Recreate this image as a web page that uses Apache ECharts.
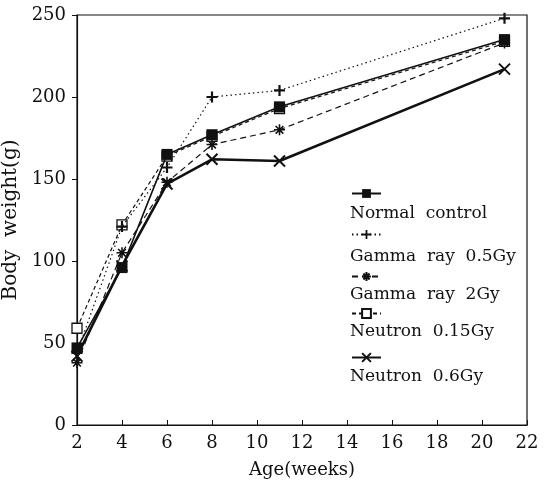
<!DOCTYPE html>
<html>
<head>
<meta charset="utf-8">
<script src="https://cdn.jsdelivr.net/npm/echarts@6/dist/echarts.min.js"></script>
<style>
  html, body { margin: 0; padding: 0; background: #fff; }
  #chart { width: 544px; height: 481px; }
</style>
</head>
<body>
<div id="chart"></div>
<script>
// values
var ages = [2, 4, 6, 8, 11, 21];
var normalControl = [47, 96, 165, 177, 194, 235];
var gamma05 = [44, 121, 157, 200, 204, 248];
var gamma2 = [38, 105, 148, 171, 180, 233];
var neutron015 = [59, 122, 164, 176, 193, 234];
var neutron06 = [42, 97, 147, 162, 161, 217];
var seriesNames = ['Normal  control', 'Gamma  ray  0.5Gy', 'Gamma  ray  2Gy', 'Neutron  0.15Gy', 'Neutron  0.6Gy'];

var ink = '#111';
var font = 'DejaVu Serif';

function pairs(ys) {
    return ages.map(function (a, i) { return [a, ys[i]]; });
}

var plusPath = 'path://M4,0L6,0L6,4L10,4L10,6L6,6L6,10L4,10L4,6L0,6L0,4L4,4Z';
var starPath = 'path://M5,0L5,10M0,5L10,5M1.5,1.5L8.5,8.5M8.5,1.5L1.5,8.5';
var crossPath = 'path://M0,0L10,10M10,0L0,10';

var chart = echarts.init(document.getElementById('chart'));

var series = [
    {
        name: seriesNames[0], type: 'line', data: pairs(normalControl),
        symbol: 'rect', symbolSize: 11, z: 5,
        lineStyle: { color: ink, width: 1.6, type: 'solid' },
        itemStyle: { color: ink }
    },
    {
        name: seriesNames[1], type: 'line', data: pairs(gamma05),
        symbol: plusPath, symbolSize: 11, z: 3,
        lineStyle: { color: ink, width: 1.2, type: [1.5, 3] },
        itemStyle: { color: ink }
    },
    {
        name: seriesNames[2], type: 'line', data: pairs(gamma2),
        symbol: starPath, symbolSize: 11, z: 3,
        lineStyle: { color: ink, width: 1.2, type: [6, 4] },
        itemStyle: { color: ink, borderColor: ink, borderWidth: 1.6 }
    },
    {
        name: seriesNames[3], type: 'line', data: pairs(neutron015),
        symbol: 'rect', symbolSize: 10, z: 2,
        lineStyle: { color: ink, width: 1.2, type: [4, 3] },
        itemStyle: { color: '#fff', borderColor: ink, borderWidth: 1.3 }
    },
    {
        name: seriesNames[4], type: 'line', data: pairs(neutron06),
        symbol: crossPath, symbolSize: 11, z: 4,
        lineStyle: { color: ink, width: 2.6, type: 'solid' },
        itemStyle: { color: ink, borderColor: ink, borderWidth: 2 }
    }
];
series.forEach(function (s) {
    s.showSymbol = true;
    s.animation = false;
});

var iconTops = [188, 229, 271, 308, 352];
var textTops = [205, 248, 286, 323, 368];

var legends = seriesNames.map(function (n, i) {
    return {
        data: [n],
        left: 351,
        top: iconTops[i],
        itemWidth: 29,
        itemHeight: 11,
        formatter: function () { return ''; },
        selectedMode: false,
        padding: 0
    };
});

var labels = seriesNames.map(function (n, i) {
    return {
        type: 'text',
        left: 350,
        top: textTops[i],
        style: { text: n, font: '17px "' + font + '"', fill: ink }
    };
});

chart.setOption({
    animation: false,
    backgroundColor: '#fff',
    textStyle: { fontFamily: font, color: ink },
    grid: {
        left: 77, right: 17, top: 15, bottom: 56,
        outerBoundsMode: 'none',
        show: true, borderColor: ink, borderWidth: 1.2
    },
    legend: legends,
    graphic: labels,
    xAxis: {
        type: 'value',
        min: 2, max: 22, interval: 2,
        name: 'Age(weeks)', nameLocation: 'middle', nameGap: 36,
        nameTextStyle: { fontFamily: font, fontSize: 18, color: ink },
        axisLine: { lineStyle: { color: ink, width: 1.2 } },
        axisTick: { inside: true, length: 5, lineStyle: { color: ink } },
        axisLabel: { fontFamily: font, fontSize: 18, color: ink, margin: 9 },
        splitLine: { show: false }
    },
    yAxis: {
        type: 'value',
        min: 0, max: 250, interval: 50,
        name: 'Body  weight(g)', nameLocation: 'middle', nameGap: 44, nameRotate: 90,
        nameTextStyle: { fontFamily: font, fontSize: 20, color: ink },
        axisLine: { show: true, lineStyle: { color: ink, width: 1.2 } },
        axisTick: { show: true, inside: false, length: 5, lineStyle: { color: ink } },
        axisLabel: { fontFamily: font, fontSize: 18, color: ink, margin: 11 },
        splitLine: { show: false }
    },
    series: series
});
</script>
</body>
</html>
